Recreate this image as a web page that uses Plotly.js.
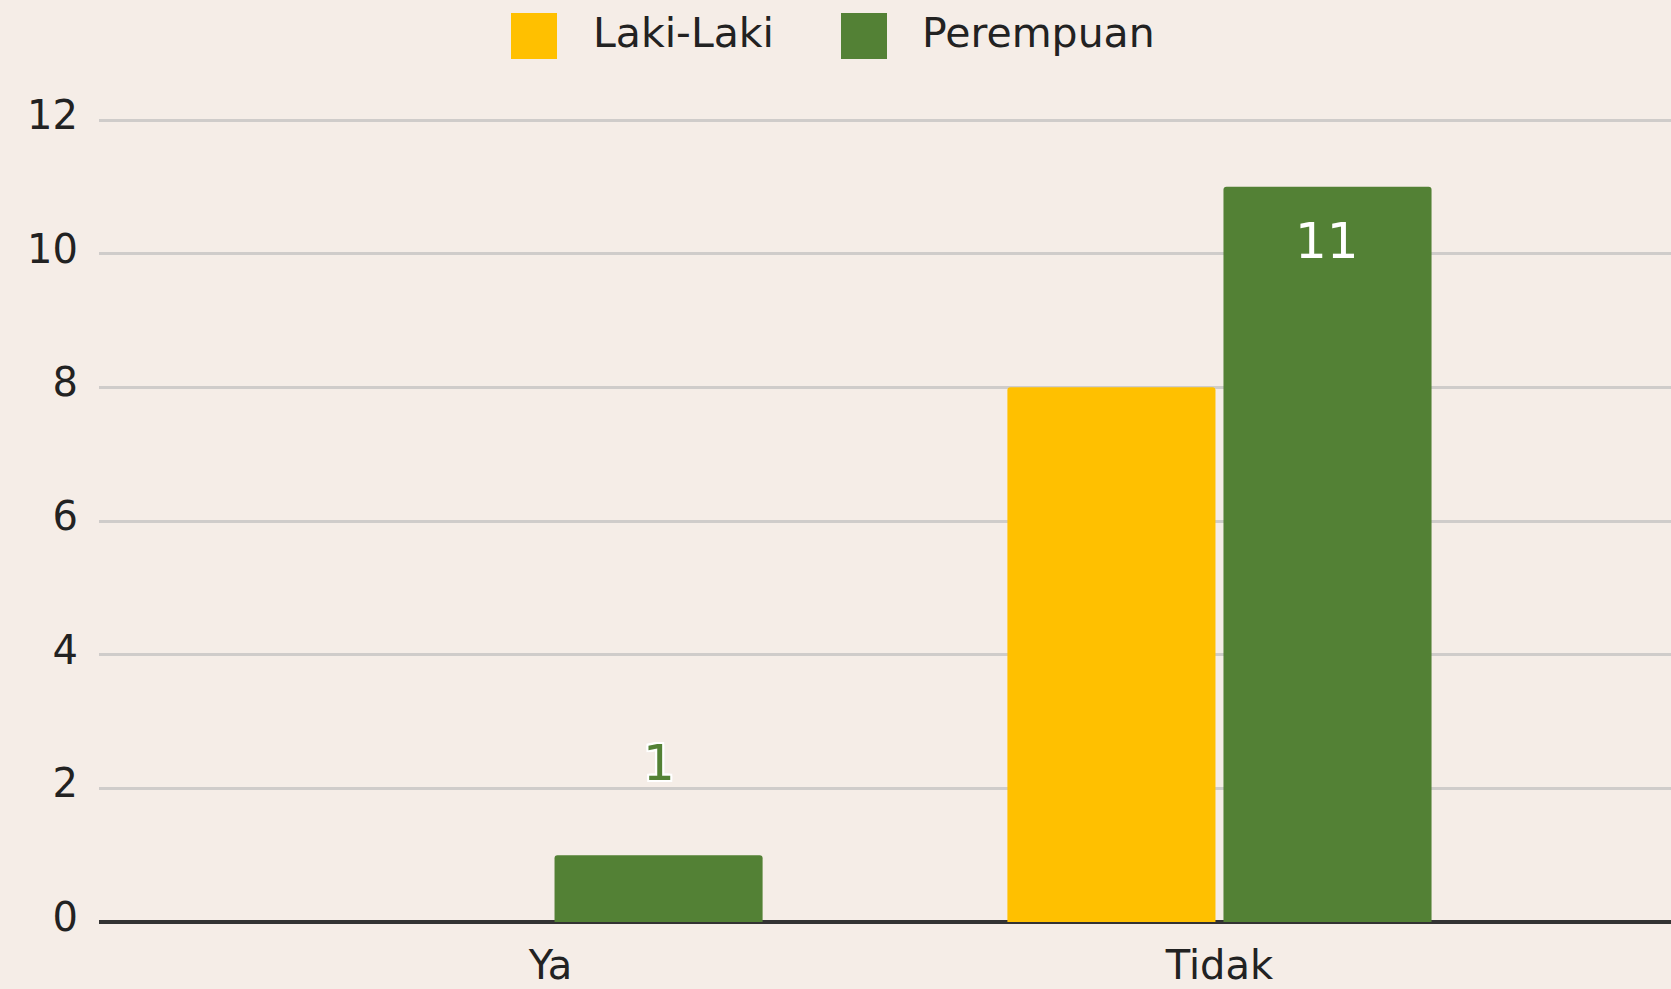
<!DOCTYPE html>
<html>
<head>
<meta charset="utf-8">
<script src="https://cdn.plot.ly/plotly-3.0.1.min.js"></script>
<style>
  html, body { margin: 0; padding: 0; background: #F5EDE7; }
  #chart { width: 1671px; height: 989px; }
</style>
</head>
<body>
<div id="chart"></div>
<script>
// ---- data ----
const categories = ["Ya", "Tidak"];
const seriesNames = ["Laki-Laki", "Perempuan"];
const lakiLaki = [0, 8];
const perempuan = [1, 11];
const yTickVals = [0, 2, 4, 6, 8, 10, 12];

// ---- style ----
const BG = "#F5EDE7";
const colors = ["#FFC000", "#538135"];
const FONT = "DejaVu Sans, sans-serif";

// plot box in pixels
const W = 1671, H = 989;
const M = {l: 99, r: 0, t: 116, b: 67};
const PW = W - M.l - M.r, PH = H - M.t - M.b;
const px2x = p => (p - M.l) / PW;
const px2y = p => (H - M.b - p) / PH;

const traces = [
  {type: "bar", name: seriesNames[0], x: categories, y: lakiLaki,
   marker: {color: colors[0], cornerradius: 3}, showlegend: false, hoverinfo: "x+y+name"},
  {type: "bar", name: seriesNames[1], x: categories, y: perempuan,
   marker: {color: colors[1], cornerradius: 3}, showlegend: false, hoverinfo: "x+y+name"}
];

// value labels for Perempuan series
const annotations = [
  {x: categories[0], y: perempuan[0], xref: "x", yref: "y", xshift: 108, yshift: 92,
   text: String(perempuan[0]), showarrow: false, yanchor: "middle",
   font: {family: FONT, size: 50, color: colors[1],
          shadow: "2px 0 0 #fff, -2px 0 0 #fff, 0 2px 0 #fff, 0 -2px 0 #fff, 2px 2px 0 #fff, -2px -2px 0 #fff, 2px -2px 0 #fff, -2px 2px 0 #fff"}},
  {x: categories[1], y: perempuan[1], xref: "x", yref: "y", xshift: 108, yshift: -54,
   text: String(perempuan[1]), showarrow: false, yanchor: "middle",
   font: {family: FONT, size: 50, color: "#ffffff"}}
];

// custom legend
const legendSwatchPx = [[511, 557], [841, 887]];
const legendTextPx = [591, 920];
const shapes = [];
seriesNames.forEach((n, i) => {
  shapes.push({type: "rect", xref: "paper", yref: "paper",
    x0: px2x(legendSwatchPx[i][0]), x1: px2x(legendSwatchPx[i][1]),
    y0: px2y(59), y1: px2y(13), fillcolor: colors[i], line: {width: 0}});
  annotations.push({xref: "paper", yref: "paper", x: px2x(legendTextPx[i]), y: px2y(33),
    xanchor: "left", yanchor: "middle", showarrow: false, text: n,
    font: {family: FONT, size: 41, color: "#222"}});
});

const layout = {
  width: W, height: H,
  paper_bgcolor: BG, plot_bgcolor: BG,
  margin: M,
  font: {family: FONT, size: 40, color: "#222"},
  barmode: "group",
  bargap: 0.354,
  bargroupgap: 0.037,
  showlegend: false,
  xaxis: {
    range: [-0.675, 1.675], showgrid: false, zeroline: false, showline: false,
    ticks: "", tickfont: {family: FONT, size: 40, color: "#222"}, ticklabelstandoff: 16,
    fixedrange: true
  },
  yaxis: {
    range: [0, 12.06], tickvals: yTickVals, ticktext: yTickVals.map(String),
    showgrid: true, gridcolor: "#CFCCCA", gridwidth: 3,
    zeroline: true, zerolinecolor: "#333333", zerolinewidth: 4,
    showline: false, ticks: "", ticklabelstandoff: 20, ticklabelshift: -5,
    tickfont: {family: FONT, size: 40, color: "#222"}, fixedrange: true
  },
  shapes: shapes,
  annotations: annotations
};

Plotly.newPlot("chart", traces, layout, {displayModeBar: false, staticPlot: true});
</script>
</body>
</html>
